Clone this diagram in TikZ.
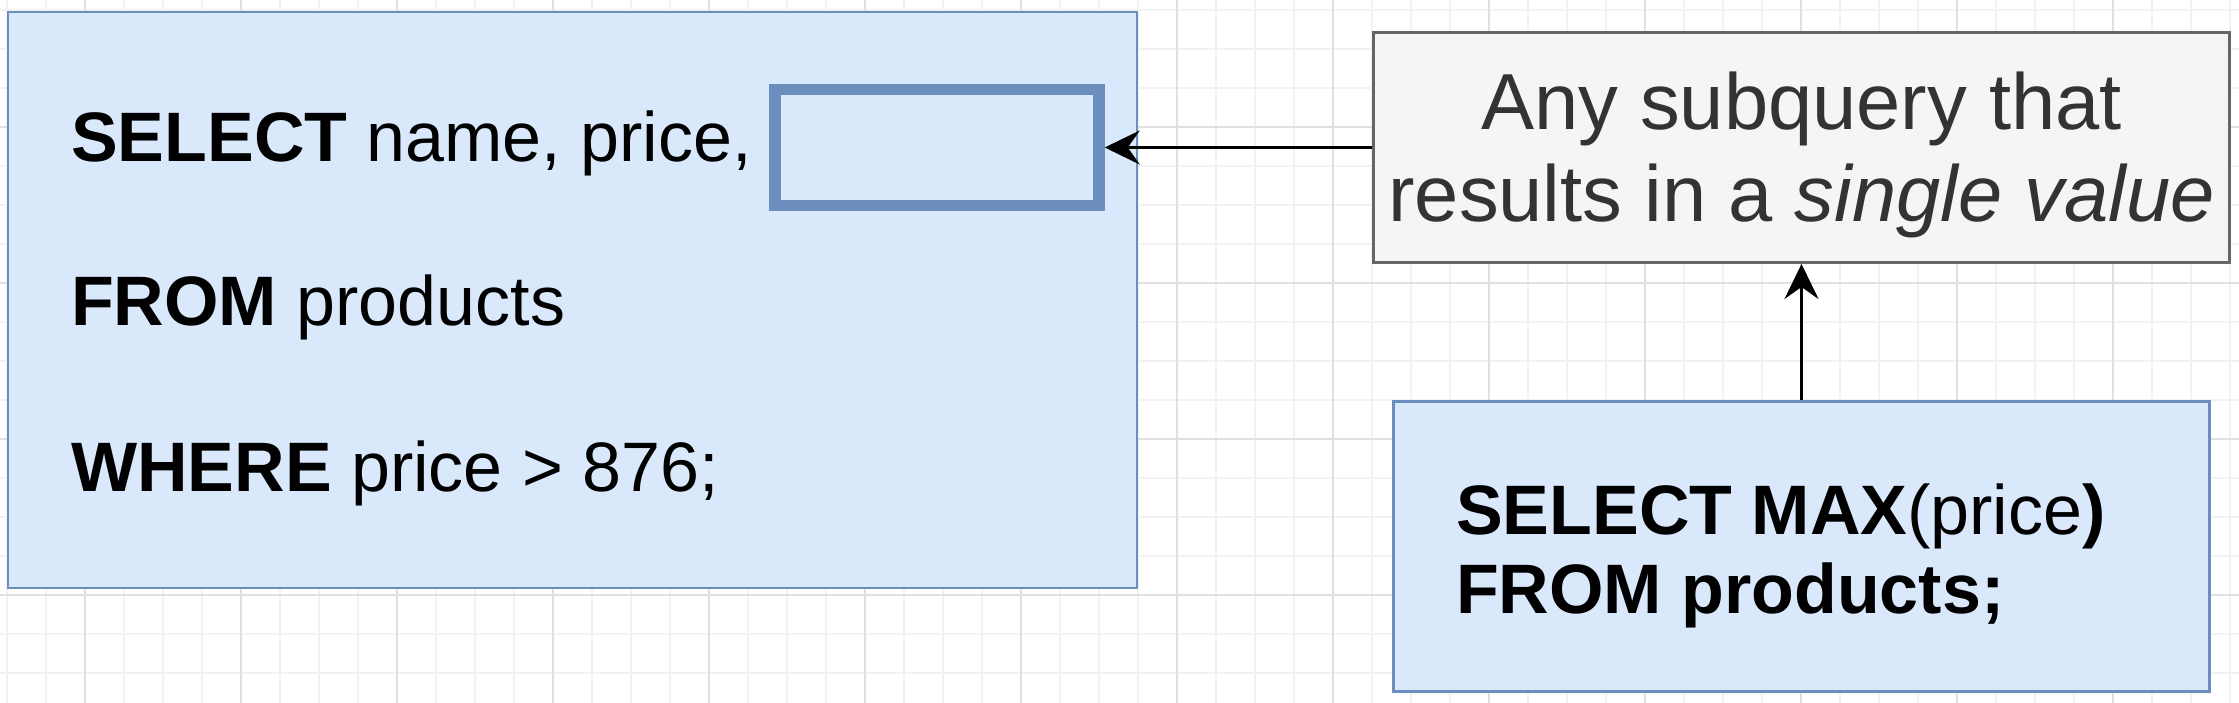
\documentclass[tikz,border=0pt]{standalone}
\usepackage{fontspec}
\setmainfont{Liberation Sans}
\usetikzlibrary{arrows.meta}
\definecolor{bleu}{HTML}{DAE8FC}
\definecolor{bleutrait}{HTML}{6C8EBF}
\definecolor{gris}{HTML}{F5F5F5}
\definecolor{gristrait}{HTML}{666666}
\definecolor{gristexte}{HTML}{333333}

\begin{document}
\begin{tikzpicture}[x=1pt, y=-1pt]
			\tikzset{boite/.style={rectangle, draw=bleutrait, fill=bleu, line width=2.5pt, inner sep=0pt},
			encadre/.style={boite, line width=11.5pt},
			note/.style={rectangle, draw=gristrait, fill=gris, line width=3pt, inner sep=0pt},
			ligne/.style={anchor=base west, inner sep=0pt, font=\fontsize{70}{79}\selectfont},
			texte/.style={anchor=base, inner sep=0pt, text=gristexte, font=\fontsize{79.5}{92}\selectfont},
			fleche/.style={-{Stealth[length=35pt, width=34pt, inset=12pt]}, line width=3pt}};

			\useasboundingbox (0,0) rectangle (2239,703);
			\fill[white] (0,0) rectangle (2239,703);

			% grille de fond
			\foreach \x in {7,46,...,2239}{ \draw[line width=1.5pt, black!5] (\x,0) -- (\x,703); }
			\foreach \y in {10,49,...,703}{ \draw[line width=1.5pt, black!5] (0,\y) -- (2239,\y); }
			\foreach \x in {85,241,...,2239}{ \draw[line width=2pt, black!12] (\x,0) -- (\x,703); }
			\foreach \y in {127,283,...,703}{ \draw[line width=2pt, black!12] (0,\y) -- (2239,\y); }

			% requete principale
			\node[boite, minimum width=1129pt, minimum height=576pt] (requete) at (572.5,300) {};
			\foreach \y/\mot/\suite in {162/SELECT/{name, price,}, 326/FROM/products, 491/WHERE/{price > 876;}}{
				\node[ligne] (l-\mot) at (71,\y) {\textbf{\mot} \suite};
			}
			\node[encadre, minimum width=324pt, minimum height=116pt] (trou) at (937,147.5) {};

			% sous-requete
			\node[note, minimum width=856pt, minimum height=230pt] (note) at (1801.5,147.5) {};
			\node[texte] (note-1) at (1801.5,130) {Any subquery that};
			\node[texte] (note-2) at (1801.5,222) {results in a \textit{single value}};

			\node[boite, minimum width=816pt, minimum height=290pt] (max) at (1801.5,546.5) {};
			\node[ligne] (max-1) at (1456,534) {\textbf{SELECT MAX}(price\textbf{)}};
			\node[ligne] (max-2) at (1456,613) {\textbf{FROM products;}};

			\draw[fleche] (note.west) -- (trou.east);
			\draw[fleche] (max.north) -- (note.south);

\end{tikzpicture}
\end{document}
